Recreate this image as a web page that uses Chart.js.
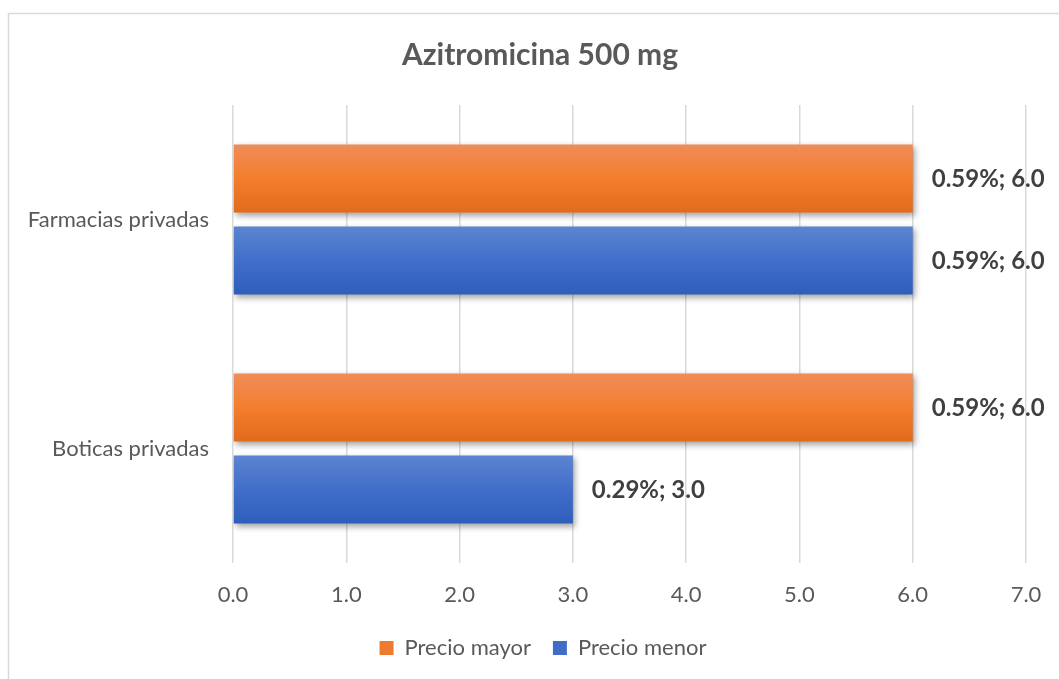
<!DOCTYPE html>
<html>
<head>
<meta charset="utf-8">
<script src="https://cdn.jsdelivr.net/npm/chart.js@4/dist/chart.umd.min.js"></script>
<style>
  html, body { margin: 0; padding: 0; background: #fff; }
  #wrap { position: relative; width: 1059px; height: 679px; }
</style>
</head>
<body>
<div id="wrap"><canvas id="chart" width="1059" height="679"></canvas></div>
<script>
// categories top to bottom, as shown
const categories = ['Farmacias privadas', 'Boticas privadas'];
const precioMayor = [6.0, 6.0];
const precioMenor = [6.0, 3.0];
const pctMayor = ['0.59%', '0.59%'];
const pctMenor = ['0.59%', '0.29%'];
const xTicks = [0, 1, 2, 3, 4, 5, 6, 7];

const FONT = 'Lato, "Open Sans", sans-serif';
const CAT_PCT = 0.716;
const BAR_PCT = 0.83;

// vertical gradient per bar, worked out from the category scale
function barGradient(ctx, top, mid, bot) {
  const chart = ctx.chart;
  const ys = chart.scales.y;
  if (!ys || ctx.dataIndex === undefined || !chart.chartArea) return mid;
  const n = chart.data.datasets.length;
  const band = Math.abs(ys.getPixelForValue(1) - ys.getPixelForValue(0)) || ys.height / categories.length;
  const slot = band * CAT_PCT / n;
  const yc = ys.getPixelForValue(ctx.dataIndex) - band * CAT_PCT / 2 + slot * (ctx.datasetIndex + 0.5);
  const h = slot * BAR_PCT;
  const g = chart.ctx.createLinearGradient(0, yc - h / 2, 0, yc + h / 2);
  g.addColorStop(0, top);
  g.addColorStop(0.5, mid);
  g.addColorStop(1, bot);
  return g;
}

// box around the whole chart, like the Excel frame
const framePlugin = {
  id: 'frame',
  beforeDraw(chart) {
    const c = chart.ctx;
    c.save();
    c.strokeStyle = '#d9d9d9';
    c.lineWidth = 1.5;
    c.strokeRect(8.5, 13.5, 1070, 700);
    c.restore();
  }
};

// title and legend sit centred over the plot area, not the whole canvas
const centrePlugin = {
  id: 'centreBlocks',
  afterLayout(chart) {
    const shift = (box, target) => {
      if (!box) return;
      const d = target - (box.left + box.right) / 2;
      box.left += d;
      box.right += d;
    };
    shift(chart.titleBlock, 540);
    shift(chart.legend, 543);
    // legend row sits at y ~648
    const lg = chart.legend;
    if (lg) {
      const dy = 648 - (lg.top + 22 + 11);
      lg.top += dy;
      lg.bottom += dy;
    }
  }
};

// soft drop shadow on the bars
const shadowPlugin = {
  id: 'barShadow',
  beforeDatasetsDraw(chart) {
    const c = chart.ctx;
    c.save();
    c.shadowColor = 'rgba(0,0,0,0.35)';
    c.shadowBlur = 6;
    c.shadowOffsetX = 2;
    c.shadowOffsetY = 3;
  },
  afterDatasetsDraw(chart) {
    chart.ctx.restore();
  }
};

// value labels "pct; value" to the right of each bar
const labelPlugin = {
  id: 'valueLabels',
  afterDatasetsDraw(chart) {
    const c = chart.ctx;
    const pcts = [pctMayor, pctMenor];
    c.save();
    c.font = 'bold 24px ' + FONT;
    c.fillStyle = '#404040';
    c.textAlign = 'left';
    c.textBaseline = 'middle';
    chart.data.datasets.forEach((ds, di) => {
      const meta = chart.getDatasetMeta(di);
      meta.data.forEach((bar, i) => {
        const txt = pcts[di][i] + '; ' + ds.data[i].toFixed(1);
        c.fillText(txt, bar.x + 19, bar.y + 1);
      });
    });
    c.restore();
  }
};

new Chart(document.getElementById('chart'), {
  type: 'bar',
  data: {
    labels: categories,
    datasets: [
      {
        label: 'Precio mayor',
        data: precioMayor,
        backgroundColor: ctx => barGradient(ctx, '#F08C58', '#F47E2E', '#E26B1B'),
        legendColor: '#EE7A30'
      },
      {
        label: 'Precio menor',
        data: precioMenor,
        backgroundColor: ctx => barGradient(ctx, '#5C84D1', '#416ECA', '#2E5EBC'),
        legendColor: '#3F6DC8'
      }
    ]
  },
  options: {
    indexAxis: 'y',
    responsive: false,
    animation: false,
    categoryPercentage: CAT_PCT,
    barPercentage: BAR_PCT,
    layout: { padding: { left: 0, right: 33, top: 0, bottom: 0 } },
    scales: {
      x: {
        min: 0,
        max: 7,
        afterBuildTicks(scale) {
          scale.ticks = xTicks.map(v => ({ value: v }));
        },
        afterFit(scale) {
          scale.height = 62;
          scale.paddingLeft = 0;
          scale.paddingRight = 0;
        },
        grid: { color: '#d9d9d9', lineWidth: 1.5, drawTicks: false },
        border: { display: false },
        ticks: {
          padding: 19,
          color: '#595959',
          font: { family: FONT, size: 22 },
          callback: v => Number(v).toFixed(1)
        }
      },
      y: {
        afterFit(scale) { scale.width = 233; },
        grid: { display: false, drawTicks: false },
        border: { display: false },
        ticks: {
          padding: 24,
          color: '#595959',
          font: { family: FONT, size: 22 }
        }
      }
    },
    plugins: {
      title: {
        display: true,
        text: 'Azitromicina 500 mg',
        color: '#595959',
        font: { family: FONT, size: 30, weight: 'bold', lineHeight: 1.2 },
        padding: { top: 37, bottom: 32 }
      },
      legend: {
        position: 'bottom',
        labels: {
          color: '#595959',
          font: { family: FONT, size: 22 },
          boxWidth: 14,
          boxHeight: 14,
          padding: 22,
          generateLabels(chart) {
            return chart.data.datasets.map((ds, i) => ({
              text: ds.label,
              fillStyle: ds.legendColor,
              strokeStyle: ds.legendColor,
              lineWidth: 0,
              fontColor: '#595959',
              datasetIndex: i
            }));
          }
        }
      },
      tooltip: { enabled: false }
    }
  },
  plugins: [framePlugin, centrePlugin, shadowPlugin, labelPlugin]
});
</script>
</body>
</html>
